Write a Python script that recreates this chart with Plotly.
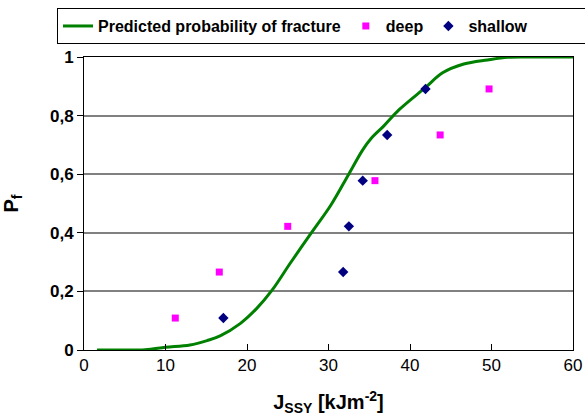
import plotly.graph_objects as go

# Predicted probability of fracture (curve)
curve_x = [1.6, 4.0, 7.5, 10.0, 13.0, 15.1, 16.7, 19.2, 21.2, 23.1, 25.3, 28.0, 30.3, 32.5,
           34.2, 35.2, 36.8, 38.7, 41.9, 44.0, 46.6, 49.5, 52.0, 55.0, 60.0]
curve_y = [0.0, 0.0, 0.001, 0.009, 0.017, 0.032, 0.048, 0.091, 0.142, 0.205, 0.296, 0.404, 0.495, 0.601,
           0.683, 0.721, 0.765, 0.821, 0.896, 0.946, 0.976, 0.99, 0.999, 1.0, 1.0]

# deep specimens
deep_x = [11.2, 16.6, 25.0, 35.7, 43.7, 49.7]
deep_y = [0.109, 0.266, 0.422, 0.578, 0.734, 0.891]

# shallow specimens
shallow_x = [17.1, 31.8, 32.5, 34.2, 37.2, 41.9]
shallow_y = [0.109, 0.266, 0.422, 0.578, 0.734, 0.891]

x_ticks = [0, 10, 20, 30, 40, 50, 60]
y_ticks = [0, 0.2, 0.4, 0.6, 0.8, 1]
y_tick_text = ["0", "0,2", "0,4", "0,6", "0,8", "1"]

FONT = "Liberation Sans, Arial, sans-serif"

fig = go.Figure()
fig.add_trace(go.Scatter(
    x=curve_x, y=curve_y, mode="lines",
    line=dict(color="#008000", width=3, shape="spline", smoothing=1.0),
    name="<b>Predicted probability of fracture</b>",
))
fig.add_trace(go.Scatter(
    x=deep_x, y=deep_y, mode="markers",
    marker=dict(symbol="square", color="#FF00FF", size=7),
    name="<b>deep</b>",
))
fig.add_trace(go.Scatter(
    x=shallow_x, y=shallow_y, mode="markers",
    marker=dict(symbol="diamond", color="#000080", size=8),
    name="<b>shallow</b>" + "\u00a0" * 14,
))

fig.update_layout(
    width=585, height=420,
    margin=dict(l=84, r=12, t=57, b=70, autoexpand=False),
    paper_bgcolor="white", plot_bgcolor="white",
    font=dict(family=FONT, color="black"),
    showlegend=True,
    legend=dict(
        orientation="h", x=-0.0552, y=1.167, xanchor="left", yanchor="top",
        bordercolor="black", borderwidth=1,
        font=dict(family=FONT, size=16, color="black"),
        itemwidth=30, tracegroupgap=0,
    ),
    xaxis=dict(
        range=[0, 60], tickvals=x_ticks, ticktext=[str(v) for v in x_ticks],
        showgrid=False, zeroline=False, automargin=False,
        showline=True, linecolor="black", linewidth=1, mirror=True,
        ticks="inside", ticklen=6, tickcolor="black",
        tickfont=dict(family=FONT, size=17),
        title=dict(text="<b>J<sub>SSY</sub> [kJm<sup>-2</sup>]</b>",
                   font=dict(family=FONT, size=20), standoff=20),
    ),
    yaxis=dict(
        range=[0, 1], tickvals=y_ticks, ticktext=["<b>%s</b>" % t for t in y_tick_text],
        showgrid=True, gridcolor="#808080", gridwidth=1.5, zeroline=False, automargin=False,
        showline=True, linecolor="black", linewidth=1, mirror=True,
        ticks="outside", ticklen=6, tickcolor="black",
        tickfont=dict(family=FONT, size=17),
        title=dict(text="<b>P<sub>f</sub></b>", font=dict(family=FONT, size=20), standoff=32),
    ),
)

fig.write_html("out.html", config={"displayModeBar": False},
               post_script="document.body.style.margin='0';")
